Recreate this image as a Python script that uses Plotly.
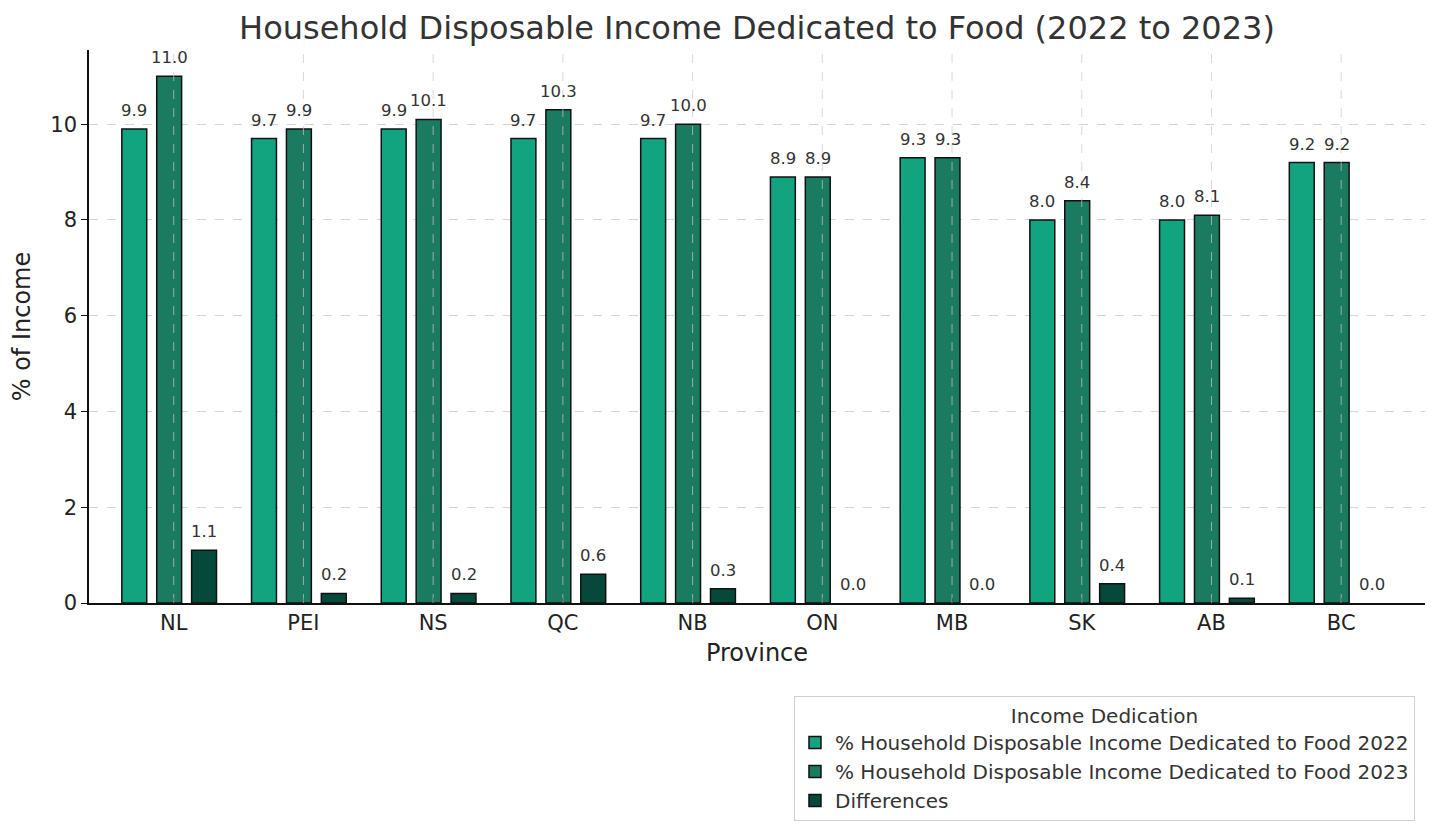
import plotly.graph_objects as go

provinces = ["NL", "PEI", "NS", "QC", "NB", "ON", "MB", "SK", "AB", "BC"]
food_2022 = [9.9, 9.7, 9.9, 9.7, 9.7, 8.9, 9.3, 8.0, 8.0, 9.2]
food_2023 = [11.0, 9.9, 10.1, 10.3, 10.0, 8.9, 9.3, 8.4, 8.1, 9.2]
differences = [1.1, 0.2, 0.2, 0.6, 0.3, 0.0, 0.0, 0.4, 0.1, 0.0]

series = [
    ("% Household Disposable Income Dedicated to Food 2022", food_2022, "#12a47e", -0.304),
    ("% Household Disposable Income Dedicated to Food 2023", food_2023, "#1a7b60", -0.035),
    ("Differences", differences, "#06493a", 0.234),
]
bar_w = 0.192
xs = list(range(len(provinces)))

fig = go.Figure()
for name, vals, color, off in series:
    fig.add_trace(go.Bar(
        x=xs, y=vals, name=name, width=bar_w, offset=off - bar_w / 2,
        marker=dict(color=color,
                    line=dict(color="#111111", width=[1.5 if v > 0 else 0 for v in vals])),
    ))
    for i, v in enumerate(vals):
        fig.add_annotation(x=i + off, y=v, text=f"{v:.1f}", showarrow=False,
                           yanchor="bottom", yshift=7,
                           font=dict(size=16.5, color="#333333", family="DejaVu Sans"))

for i in xs:
    fig.add_shape(type="line", xref="x", yref="paper", x0=i, x1=i, y0=0, y1=1,
                  line=dict(color="rgba(200,200,200,0.7)", width=1, dash="dash"),
                  layer="above")

fig.update_layout(
    width=1440, height=837,
    plot_bgcolor="white", paper_bgcolor="white",
    margin=dict(l=77, r=23, t=42, b=242),
    barmode="overlay",
    font=dict(family="DejaVu Sans", color="#222222"),
    title=dict(text="Household Disposable Income Dedicated to Food (2022 to 2023)",
               x=0.5, xref="paper", xanchor="center", y=1 - 20 / 837, yanchor="middle",
               font=dict(size=32, color="#333333")),
    legend=dict(
        x=0.9925, xanchor="right", y=-0.168, yanchor="top",
        bordercolor="#d0d0d0", borderwidth=1, bgcolor="white",
        font=dict(size=20, color="#333333"),
        title=dict(text="Income Dedication", side="top center", font=dict(size=20, color="#333333")),
        tracegroupgap=2, itemwidth=30,
    ),
    xaxis=dict(
        range=[-0.653, 9.646], tickmode="array", tickvals=xs, ticktext=provinces,
        showgrid=False, zeroline=False, showline=True, linecolor="#111111", linewidth=1.5,
        ticks="inside", ticklen=5, tickcolor="#111111",
        tickfont=dict(size=21, color="#222222"),
        title=dict(text="Province", font=dict(size=24, color="#222222"), standoff=10),
    ),
    yaxis=dict(
        range=[0, 11.55], tickvals=[0, 2, 4, 6, 8, 10],
        showgrid=True, gridcolor="rgba(200,200,200,0.8)", griddash="dash", gridwidth=1,
        zeroline=False, showline=True, linecolor="#111111", linewidth=1.5,
        ticks="outside", ticklen=6, tickcolor="#111111",
        tickfont=dict(size=21, color="#222222"),
        title=dict(text="% of Income", font=dict(size=24, color="#222222"), standoff=14),
    ),
)

fig.write_html("out.html")
